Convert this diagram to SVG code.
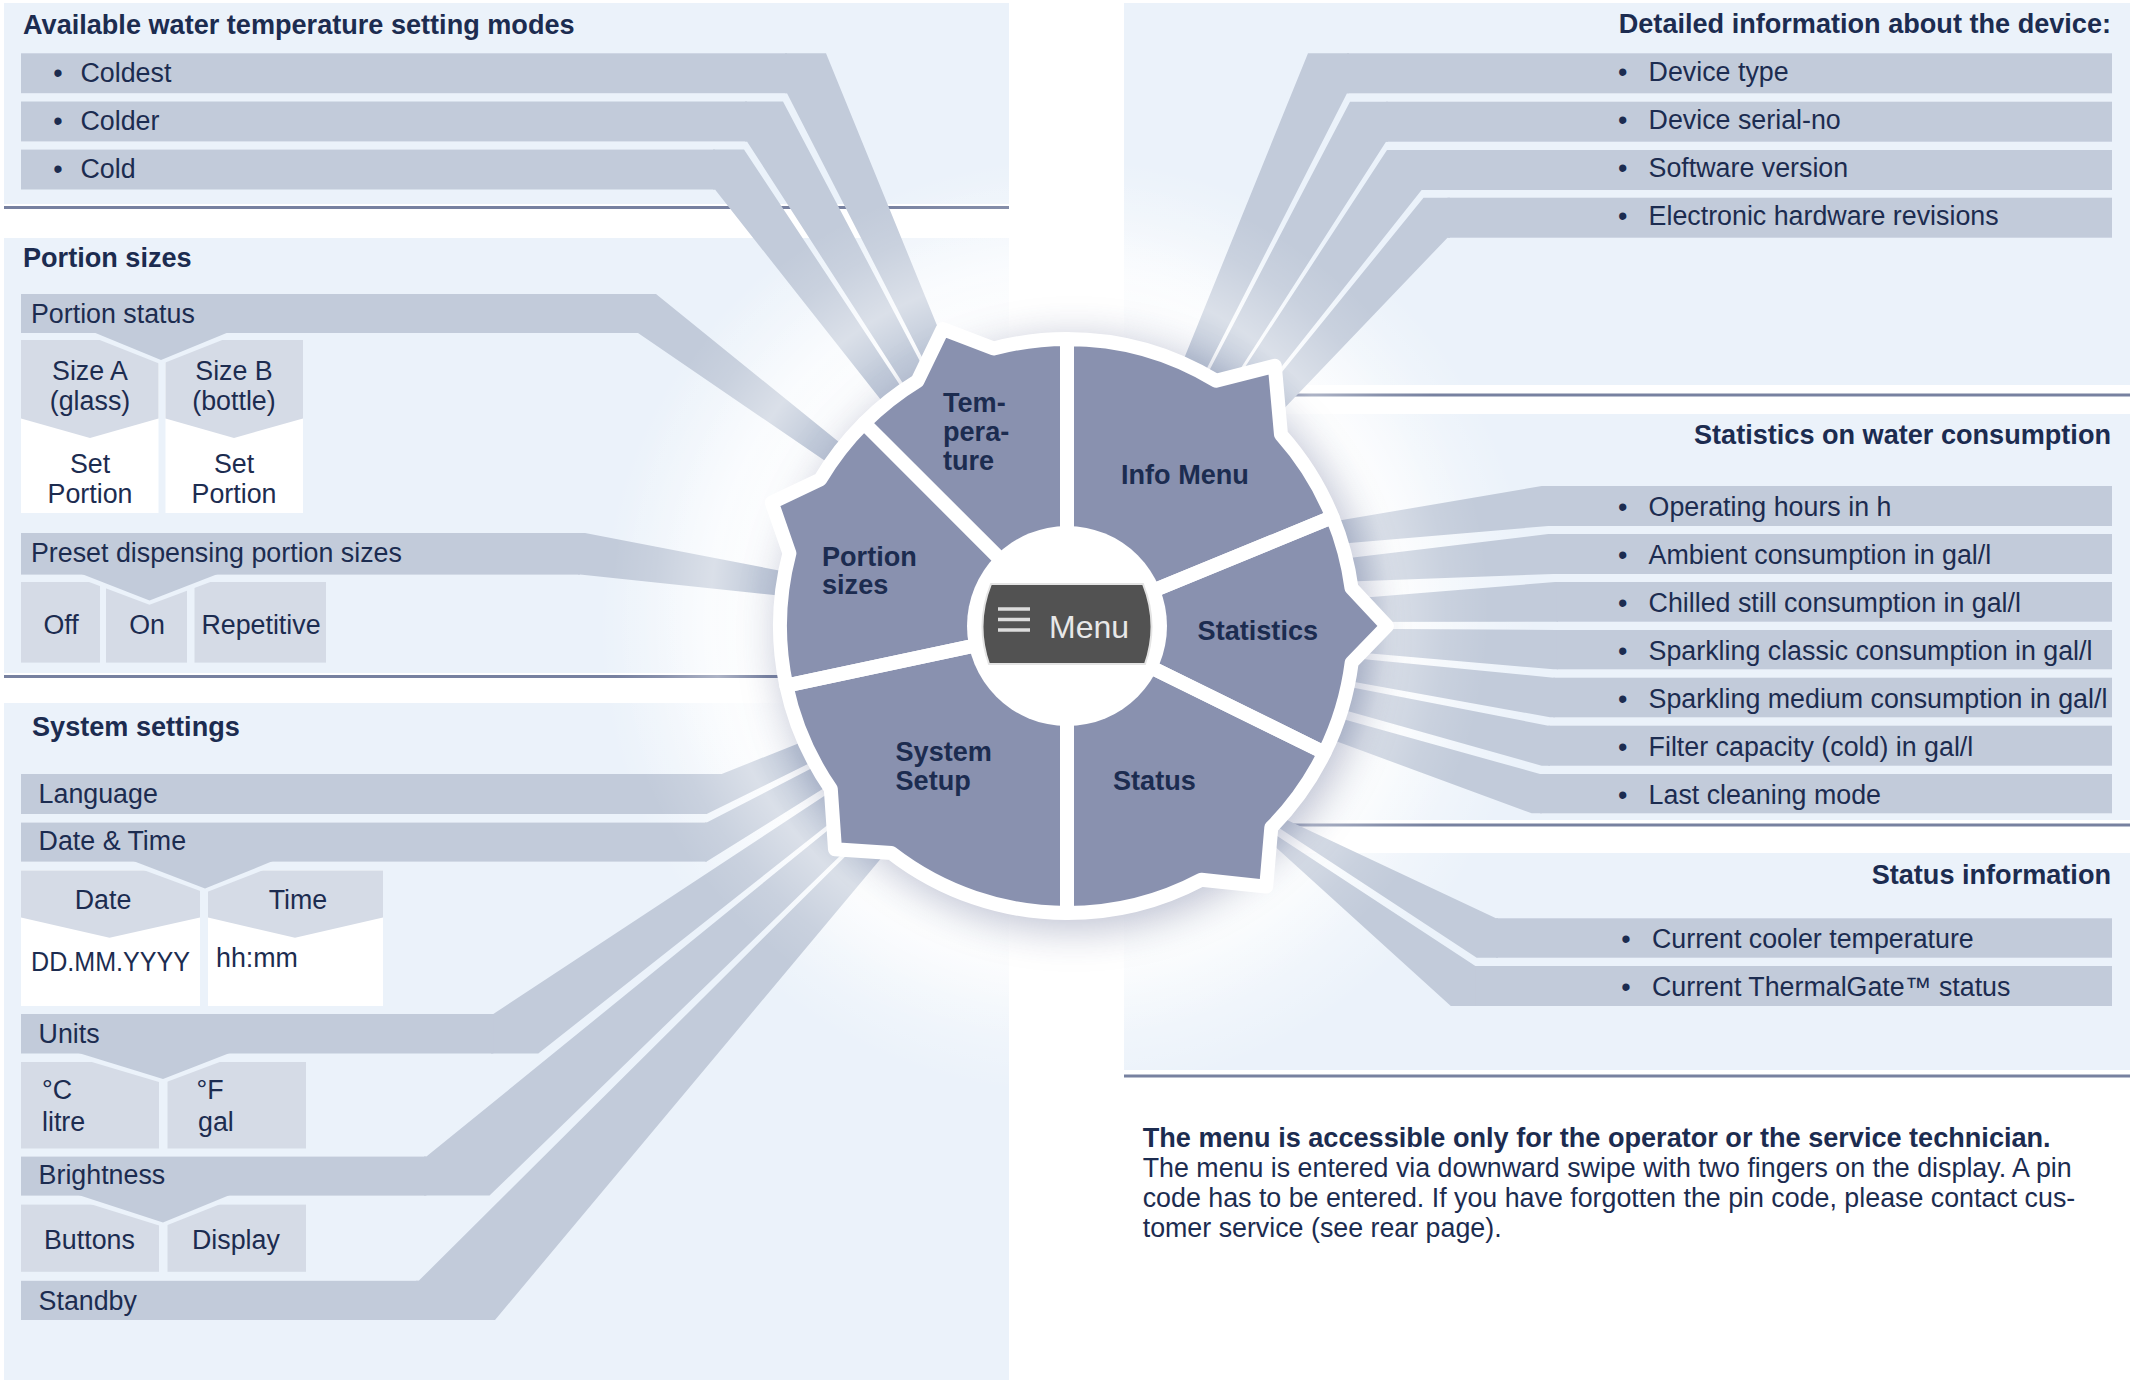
<svg xmlns="http://www.w3.org/2000/svg" xmlns:xlink="http://www.w3.org/1999/xlink" width="2137" height="1383" viewBox="0 0 2137 1383">
<style>
.t{font-family:"Liberation Sans",Arial,Helvetica,sans-serif;font-size:26.8px;fill:#1c2c50}
.b{font-weight:bold;font-size:27.1px}
.m{text-anchor:middle}
.e{text-anchor:end}
.panel{fill:#ebf2fa}
.sep{stroke:#7781a0;stroke-width:3}
.bar{fill:#c2cbda}
.box{fill:#d5dbe6}
.wbox{fill:#ffffff}
.vline{fill:none;stroke:#ebf2fa;stroke-width:8}
.seg{fill:#8991af}
.gap{fill:none;stroke:#ffffff;stroke-width:14;stroke-linejoin:round}
.menu{font-family:"Liberation Sans",Arial,sans-serif;font-size:32px;fill:#e8e8e8}
</style>
<defs>
<radialGradient id="halo" cx="1067" cy="626" r="470" gradientUnits="userSpaceOnUse">
<stop offset="0" stop-color="#fff" stop-opacity="1"/>
<stop offset="0.6" stop-color="#fff" stop-opacity="1"/>
<stop offset="0.72" stop-color="#fff" stop-opacity="0.75"/>
<stop offset="0.86" stop-color="#fff" stop-opacity="0.3"/>
<stop offset="1" stop-color="#fff" stop-opacity="0"/>
</radialGradient>
<radialGradient id="haze" cx="1050" cy="610" r="440" gradientUnits="userSpaceOnUse">
<stop offset="0.66" stop-color="#fff" stop-opacity="0"/>
<stop offset="0.77" stop-color="#fff" stop-opacity="0.4"/>
<stop offset="0.9" stop-color="#fff" stop-opacity="0.12"/>
<stop offset="1" stop-color="#fff" stop-opacity="0"/>
</radialGradient>
<filter id="blur" x="-30%" y="-30%" width="160%" height="160%">
<feGaussianBlur stdDeviation="20"/>
</filter>
<path id="p-info" d="M1067,626 L1067,339 A287,287 0 0 1 1216.1,380.8 L1274.8,365.8 L1281,434.7 A287,287 0 0 1 1332.5,517.1 Z"/>
<path id="p-stat" d="M1067,626 L1332.5,517.1 A287,287 0 0 1 1351.5,588 L1387,626 L1351.7,662.5 A287,287 0 0 1 1324.5,752.7 Z"/>
<path id="p-status" d="M1067,626 L1324.5,752.7 A287,287 0 0 1 1271.3,827.5 L1266.2,886.6 L1201.3,879.7 A287,287 0 0 1 1067,913 Z"/>
<path id="p-sys" d="M1067,626 L1067,913 A287,287 0 0 1 891.5,853.1 L835,849.3 L830.8,789 A287,287 0 0 1 786.3,685.7 Z"/>
<path id="p-por" d="M1067,626 L786.3,685.7 A287,287 0 0 1 789.4,553.2 L771.8,502.5 L820.2,479.5 A287,287 0 0 1 864.1,423.1 Z"/>
<path id="p-tem" d="M1067,626 L864.1,423.1 A287,287 0 0 1 917.5,381 L942.7,329 L993.7,348.5 A287,287 0 0 1 1067,339 Z"/>
</defs>

<rect x="0" y="0" width="2137" height="1383" fill="#ffffff"/>

<g id="panels">
<rect class="panel" x="4" y="3" width="1005" height="201"/>
<rect class="panel" x="4" y="238" width="1005" height="435"/>
<rect class="panel" x="4" y="703" width="1005" height="677"/>
<rect class="panel" x="1124" y="3" width="1006" height="382"/>
<rect class="panel" x="1124" y="414" width="1006" height="406"/>
<rect class="panel" x="1124" y="853" width="1006" height="217"/>
<circle cx="1067" cy="626" r="470" fill="url(#halo)"/>
<line class="sep" x1="4" y1="207.5" x2="1009" y2="207.5"/>
<line class="sep" x1="4" y1="676.5" x2="1009" y2="676.5"/>
<line class="sep" x1="1124" y1="395" x2="2130" y2="395"/>
<line class="sep" x1="1124" y1="825" x2="2130" y2="825"/>
<line class="sep" x1="1124" y1="1076" x2="2130" y2="1076"/>
<text class="t b" x="23" y="34">Available water temperature setting modes</text>
<text class="t b" x="23" y="267">Portion sizes</text>
<text class="t b" x="32" y="736">System settings</text>
<text class="t b e" x="2111" y="33">Detailed information about the device:</text>
<text class="t b e" x="2111" y="444">Statistics on water consumption</text>
<text class="t b e" x="2111" y="884">Status information</text>
</g>

<g id="connectors" class="bar">
<polygon points="785,53.3 826,53.3 1060,627 787,93.2 785,93.2"/>
<polygon points="745,101.5 783,101.5 1060,627 747,141.4 745,141.4"/>
<polygon points="713,149.6 744,149.6 1060,627 715,189.5 713,189.5"/>
<polygon points="636,294 656,294 1065,625 638,333 636,333"/>
<polygon points="578,533 585,533 1067,626 580,574.6 578,574.6"/>
<polygon points="705,774 721.7,774 1067,636 706.7,814 705,814"/>
<polygon points="705,822.6 706.7,822.6 1067,636 706.7,861.6 705,861.6"/>
<polygon points="491,1014 493.3,1014 1067,636 538.3,1053.5 491,1053.5"/>
<polygon points="424,1156.6 426.4,1156.6 1067,636 489.5,1195.6 424,1195.6"/>
<polygon points="416,1280.8 418.7,1280.8 1067,636 495,1320 416,1320"/>
<polygon points="1349,53.3 1308,53.3 1075,627 1347,93.3 1349,93.3"/>
<polygon points="1388,101.7 1350,101.7 1075,627 1386,141.7 1388,141.7"/>
<polygon points="1424,150 1387,150 1075,627 1421.6,190 1424,190"/>
<polygon points="1450,197.7 1423.5,197.7 1075,627 1447.5,237.7 1450,237.7"/>
<polygon points="1550,486 1541.7,486 1067,567 1548.3,526 1550,526"/>
<polygon points="1555,534 1548.3,534 1067,592 1553.3,574 1555,574"/>
<polygon points="1558,582 1555,582 1067,622 1556.7,621.7 1558,621.7"/>
<polygon points="1558,630 1556.7,630 1067,627 1553.3,669.3 1558,669.3"/>
<polygon points="1555,677.7 1553.3,677.7 1067,630 1550,717.3 1555,717.3"/>
<polygon points="1550,725.7 1548.3,725.7 1067,632 1541.7,765.7 1550,765.7"/>
<polygon points="1542,774 1540,774 1067,642 1531.7,813.3 1542,813.3"/>
<polygon points="1498,918.3 1496,918.3 1215,786 1476.7,957.7 1498,957.7"/>
<polygon points="1477,966 1475.4,966 1227,803 1450.8,1006 1477,1006"/>
</g>

<!-- Temperature items -->
<g id="node-coldest"><rect class="bar" x="21" y="53.3" width="766" height="39.9"/><text class="t m" x="58" y="81.5">•</text><text class="t" x="80.5" y="81.5">Coldest</text></g>
<g id="node-colder"><rect class="bar" x="21" y="101.5" width="726" height="39.9"/><text class="t m" x="58" y="129.5">•</text><text class="t" x="80.5" y="129.5">Colder</text></g>
<g id="node-cold"><rect class="bar" x="21" y="149.6" width="694" height="39.9"/><text class="t m" x="58" y="177.5">•</text><text class="t" x="80.5" y="177.5">Cold</text></g>

<!-- Portion sizes -->
<g id="node-size-a"><rect class="wbox" x="21" y="340" width="137.5" height="173"/><polygon class="box" points="21,340 158.5,340 158.5,418.5 90,438 21,418.5"/><text class="t m" x="90" y="380">Size A</text><text class="t m" x="90" y="410">(glass)</text><text class="t m" x="90" y="473">Set</text><text class="t m" x="90" y="503">Portion</text></g>
<g id="node-size-b"><rect class="wbox" x="165.5" y="340" width="137.5" height="173"/><polygon class="box" points="165.5,340 303,340 303,418.5 234,438 165.5,418.5"/><text class="t m" x="234" y="380">Size B</text><text class="t m" x="234" y="410">(bottle)</text><text class="t m" x="234" y="473">Set</text><text class="t m" x="234" y="503">Portion</text></g>
<g id="node-portion-status"><polyline class="vline" points="93,333 161,360 229,333"/><rect class="bar" x="21" y="294" width="617" height="39"/><polygon class="bar" points="93,332 161,360 229,332"/><text class="t" x="31" y="323">Portion status</text></g>
<g id="node-off"><rect class="box" x="21" y="582" width="79" height="80.6"/><text class="t m" x="61" y="634">Off</text></g>
<g id="node-on"><rect class="box" x="106" y="582" width="81" height="80.6"/><text class="t m" x="147" y="634">On</text></g>
<g id="node-repetitive"><rect class="box" x="194.5" y="582" width="131.5" height="80.6"/><text class="t m" x="261" y="634">Repetitive</text></g>
<g id="node-preset"><polyline class="vline" points="80.5,574.6 149.5,600.6 219,574.6"/><rect class="bar" x="21" y="533" width="559" height="41.6"/><polygon class="bar" points="80.5,573.6 149.5,600.6 219,573.6"/><text class="t" x="31" y="562">Preset dispensing portion sizes</text></g>

<!-- System settings -->
<g id="node-language"><rect class="bar" x="21" y="774" width="685.7" height="40"/><text class="t" x="38.6" y="803">Language</text></g>
<g id="node-date"><rect class="wbox" x="21" y="870.5" width="179" height="135.5"/><polygon class="box" points="21,870.5 200,870.5 200,917.6 109.5,937.8 21,917.6"/><text class="t m" x="103" y="909">Date</text><text class="t" x="31" y="971" textLength="159" lengthAdjust="spacingAndGlyphs">DD.MM.YYYY</text></g>
<g id="node-time"><rect class="wbox" x="208" y="870.5" width="175" height="135.5"/><polygon class="box" points="208,870.5 383,870.5 383,917.6 295,937.8 208,917.6"/><text class="t m" x="298" y="909">Time</text><text class="t" x="216" y="967">hh:mm</text></g>
<g id="node-datetime"><polyline class="vline" points="132,861.6 205,888.5 274,861.6"/><rect class="bar" x="21" y="822.6" width="685.7" height="39"/><polygon class="bar" points="132,860.6 205,888.5 274,860.6"/><text class="t" x="38.6" y="850">Date &amp; Time</text></g>
<g id="node-celsius"><rect class="box" x="21" y="1062" width="138" height="86.5"/><text class="t" x="42" y="1099">°C</text><text class="t" x="42" y="1131">litre</text></g>
<g id="node-fahrenheit"><rect class="box" x="167.5" y="1062" width="138.5" height="86.5"/><text class="t" x="196.5" y="1099">°F</text><text class="t" x="198" y="1131">gal</text></g>
<g id="node-units"><polyline class="vline" points="77,1053.5 163,1079 231,1053.5"/><rect class="bar" x="21" y="1014" width="472.3" height="39.5"/><polygon class="bar" points="77,1052.5 163,1079 231,1052.5"/><text class="t" x="38.6" y="1043">Units</text></g>
<g id="node-buttons"><rect class="box" x="21" y="1204.6" width="138" height="67.2"/><text class="t" x="44" y="1249">Buttons</text></g>
<g id="node-display"><rect class="box" x="167.5" y="1204.6" width="138.5" height="67.2"/><text class="t" x="192" y="1249">Display</text></g>
<g id="node-brightness"><polyline class="vline" points="77,1195.6 163,1222.5 231,1195.6"/><rect class="bar" x="21" y="1156.6" width="405.4" height="39"/><polygon class="bar" points="77,1194.6 163,1222.5 231,1194.6"/><text class="t" x="38.6" y="1184">Brightness</text></g>
<g id="node-standby"><rect class="bar" x="21" y="1280.8" width="397.7" height="39.2"/><text class="t" x="38.6" y="1310">Standby</text></g>

<!-- Info -->
<g id="node-device-type"><rect class="bar" x="1347" y="53.3" width="765" height="40"/><text class="t m" x="1622.7" y="80.5">•</text><text class="t" x="1648.6" y="80.5">Device type</text></g>
<g id="node-serial"><rect class="bar" x="1386" y="101.7" width="726" height="40"/><text class="t m" x="1622.7" y="128.7">•</text><text class="t" x="1648.6" y="128.7">Device serial-no</text></g>
<g id="node-software"><rect class="bar" x="1421.6" y="150" width="690.4" height="40"/><text class="t m" x="1622.7" y="176.7">•</text><text class="t" x="1648.6" y="176.7">Software version</text></g>
<g id="node-hardware"><rect class="bar" x="1447.5" y="197.7" width="664.5" height="40"/><text class="t m" x="1622.7" y="224.7">•</text><text class="t" x="1648.6" y="224.7">Electronic hardware revisions</text></g>

<!-- Statistics -->
<g id="node-op-hours"><rect class="bar" x="1548.3" y="486" width="563.7" height="40"/><text class="t m" x="1622.7" y="515.5">•</text><text class="t" x="1648.6" y="515.5">Operating hours in h</text></g>
<g id="node-ambient"><rect class="bar" x="1553.3" y="534" width="558.7" height="40"/><text class="t m" x="1622.7" y="563.5">•</text><text class="t" x="1648.6" y="563.5">Ambient consumption in gal/l</text></g>
<g id="node-chilled"><rect class="bar" x="1556.7" y="582" width="555.3" height="39.7"/><text class="t m" x="1622.7" y="611.5">•</text><text class="t" x="1648.6" y="611.5">Chilled still consumption in gal/l</text></g>
<g id="node-classic"><rect class="bar" x="1556.7" y="630" width="555.3" height="39.3"/><text class="t m" x="1622.7" y="659.5">•</text><text class="t" x="1648.6" y="659.5">Sparkling classic consumption in gal/l</text></g>
<g id="node-medium"><rect class="bar" x="1553.3" y="677.7" width="558.7" height="39.6"/><text class="t m" x="1622.7" y="707.5">•</text><text class="t" x="1648.6" y="707.5">Sparkling medium consumption in gal/l</text></g>
<g id="node-filter"><rect class="bar" x="1548.3" y="725.7" width="563.7" height="40"/><text class="t m" x="1622.7" y="755.5">•</text><text class="t" x="1648.6" y="755.5">Filter capacity (cold) in gal/l</text></g>
<g id="node-cleaning"><rect class="bar" x="1540" y="774" width="572" height="39.3"/><text class="t m" x="1622.7" y="803.5">•</text><text class="t" x="1648.6" y="803.5">Last cleaning mode</text></g>

<!-- Status -->
<g id="node-cooler"><rect class="bar" x="1496" y="918.3" width="616" height="39.4"/><text class="t m" x="1626" y="947.5">•</text><text class="t" x="1652" y="947.5">Current cooler temperature</text></g>
<g id="node-thermalgate"><rect class="bar" x="1475.4" y="966" width="636.6" height="40"/><text class="t m" x="1626" y="995.5">•</text><text class="t" x="1652" y="995.5">Current ThermalGate™ status</text></g>

<g id="note">
<text class="t b" x="1142.7" y="1147">The menu is accessible only for the operator or the service technician.</text>
<text class="t" x="1142.7" y="1177">The menu is entered via downward swipe with two fingers on the display. A pin</text>
<text class="t" x="1142.7" y="1207">code has to be entered. If you have forgotten the pin code, please contact cus-</text>
<text class="t" x="1142.7" y="1236.5">tomer service (see rear page).</text>
</g>

<circle cx="1050" cy="610" r="440" fill="url(#haze)"/>
<circle cx="1074" cy="634" r="296" fill="#56618a" opacity="0.38" filter="url(#blur)"/>

<g id="wheel">
<g id="node-info-menu"><use xlink:href="#p-info" class="seg"/><text class="t b" x="1121" y="483.5">Info Menu</text></g>
<g id="node-statistics"><use xlink:href="#p-stat" class="seg"/><text class="t b" x="1197.6" y="640">Statistics</text></g>
<g id="node-status"><use xlink:href="#p-status" class="seg"/><text class="t b" x="1113" y="790">Status</text></g>
<g id="node-system-setup"><use xlink:href="#p-sys" class="seg"/><text class="t b" x="895.5" y="761">System</text><text class="t b" x="895.5" y="790">Setup</text></g>
<g id="node-portion-sizes"><use xlink:href="#p-por" class="seg"/><text class="t b" x="822" y="566">Portion</text><text class="t b" x="822" y="594">sizes</text></g>
<g id="node-temperature"><use xlink:href="#p-tem" class="seg"/><text class="t b" x="943" y="412">Tem-</text><text class="t b" x="943" y="441">pera-</text><text class="t b" x="943" y="470">ture</text></g>
<g id="wheel-gaps" class="gap">
<use xlink:href="#p-info"/><use xlink:href="#p-stat"/><use xlink:href="#p-status"/><use xlink:href="#p-sys"/><use xlink:href="#p-por"/><use xlink:href="#p-tem"/>
</g>
<g id="node-menu">
<circle cx="1067" cy="626" r="100" fill="#ffffff"/>
<path d="M991,584 H1143 Q1159,624 1145,664 H989 Q975,624 991,584 Z" fill="#525252" stroke="#e4e4e4" stroke-width="2"/>
<g stroke="#dcdcdc" stroke-width="3.5"><line x1="998" y1="609" x2="1030" y2="609"/><line x1="998" y1="619.5" x2="1030" y2="619.5"/><line x1="998" y1="630" x2="1030" y2="630"/></g>
<text class="menu" x="1049" y="638">Menu</text>
</g>
</g>
</svg>
